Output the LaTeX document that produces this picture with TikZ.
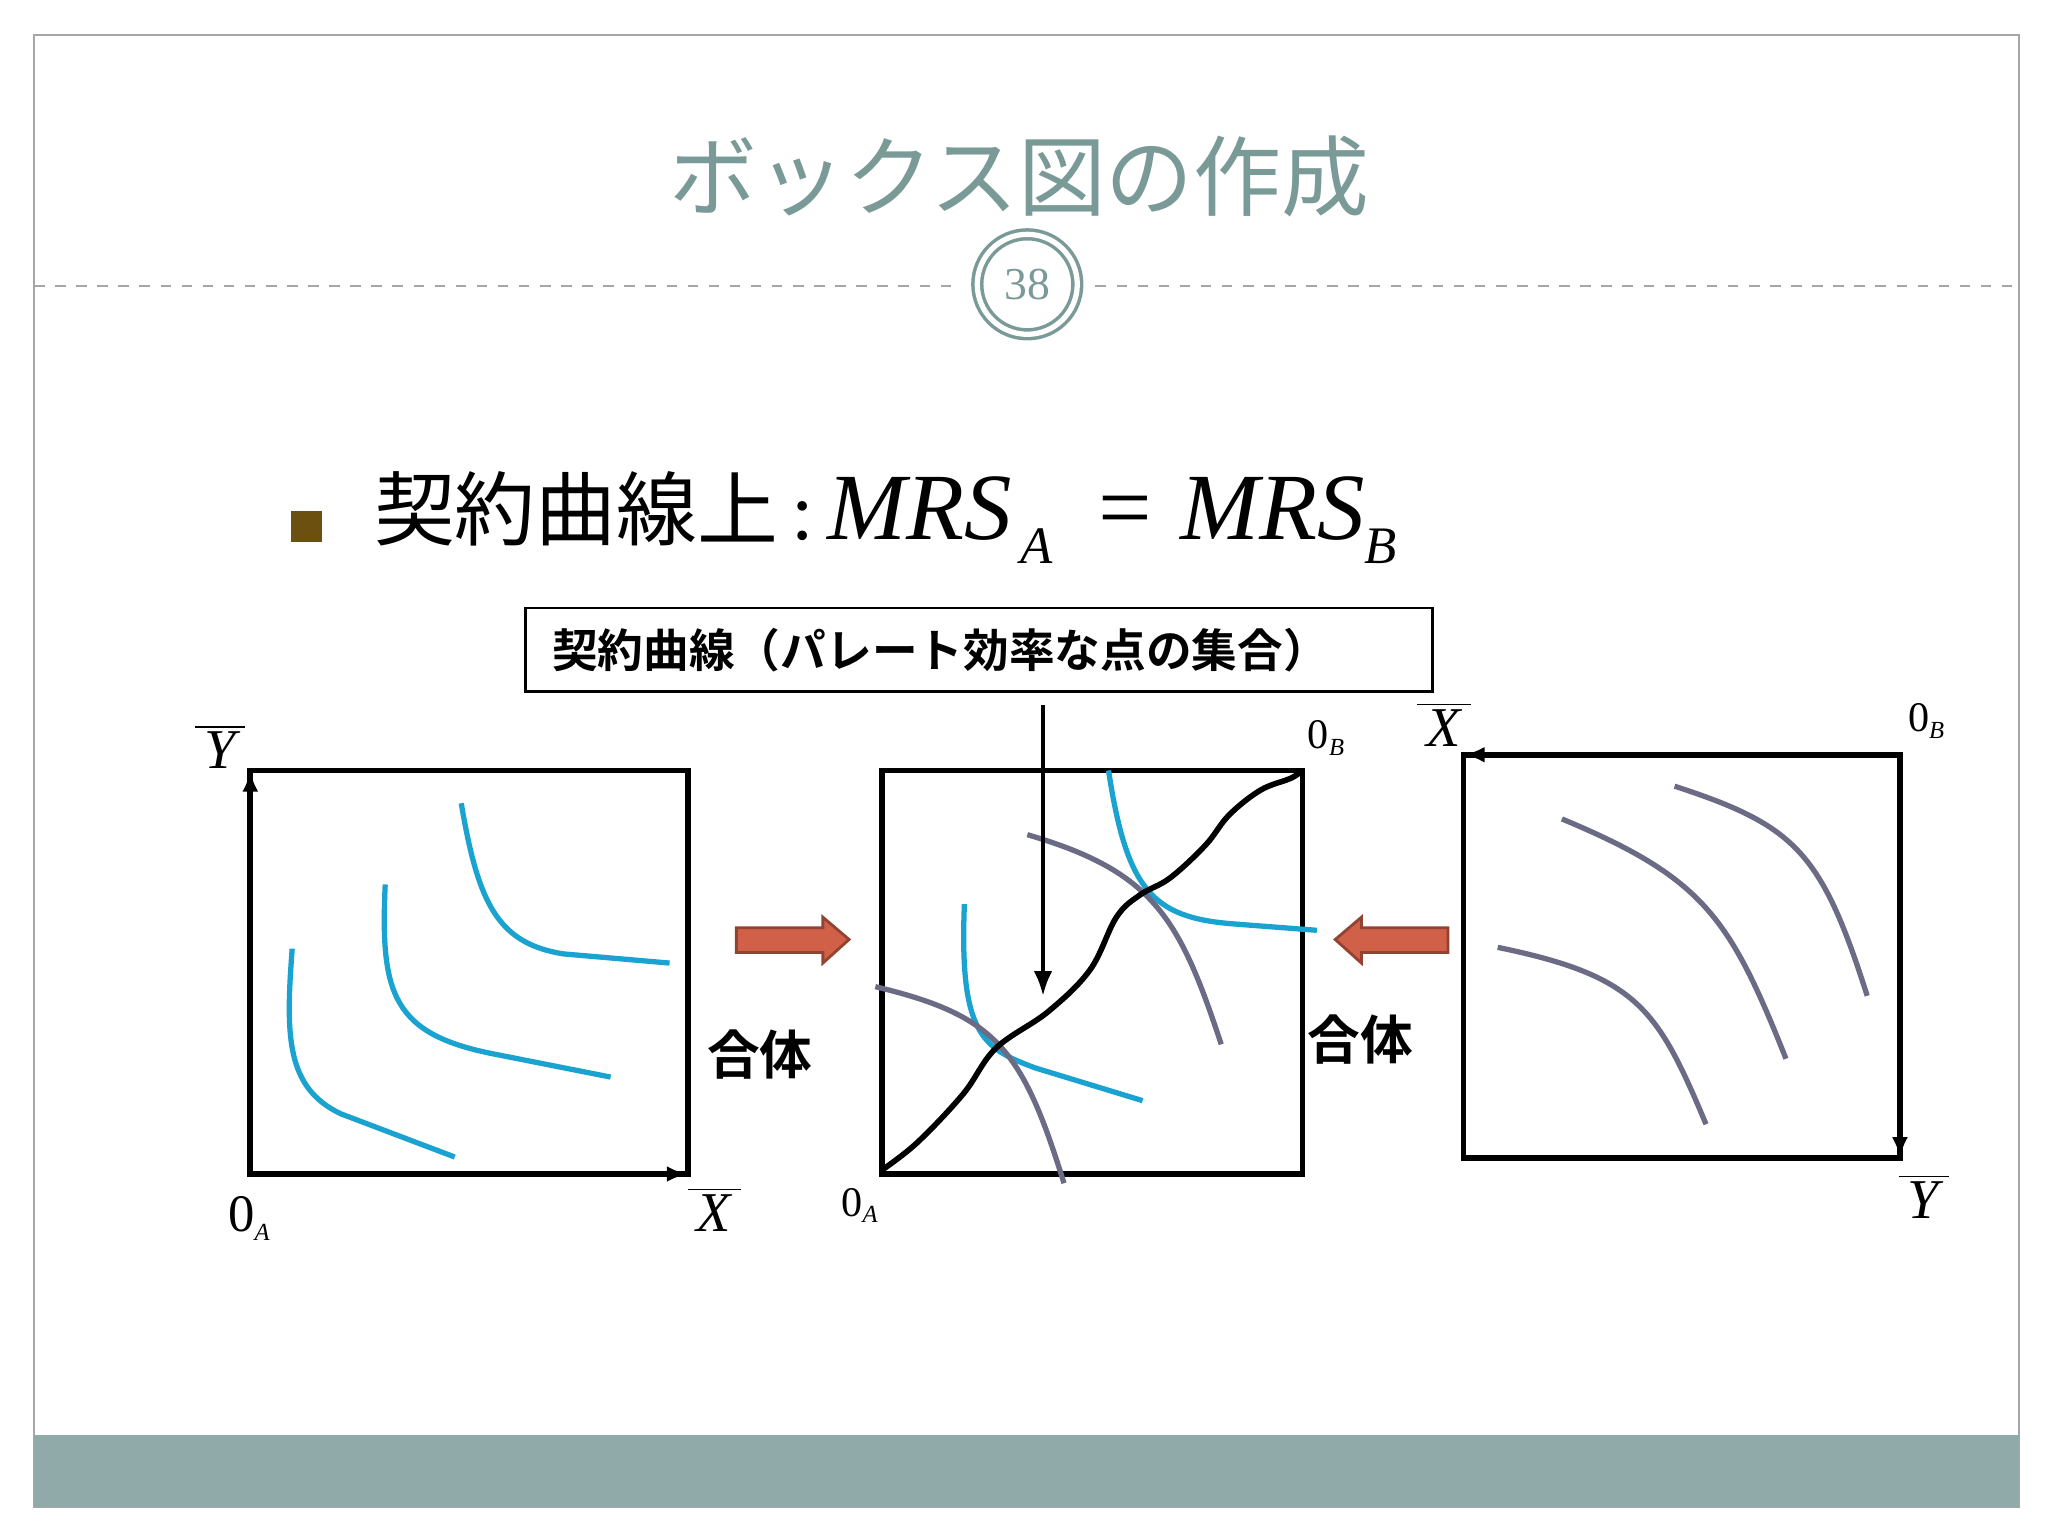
\documentclass[tikz,border=0pt]{standalone}
\usepackage{fontspec}
\setmainfont{Liberation Serif}
\newfontfamily\jp{Noto Sans CJK JP}
\newfontfamily\jpb{Noto Sans CJK JP Bold}
\usetikzlibrary{arrows.meta}
\definecolor{teal1}{HTML}{7A9A98}
\definecolor{band}{HTML}{8FAAA9}
\definecolor{cy}{HTML}{1AA3D0}
\definecolor{gy}{HTML}{6B6B86}
\definecolor{brn}{HTML}{6B5010}
\definecolor{blk}{HTML}{D06048}
\newcommand{\sbx}[1]{\raisebox{-0.35ex}{\fontsize{7}{8}\selectfont\itshape #1}}
\newcommand{\barl}[1]{$\overline{\mbox{\itshape\,#1\,}}$}
\tikzset{box/.style={draw,line width=1.6pt},cyc/.style={cy,line width=1.5pt},gyc/.style={gy,line width=1.5pt},
lab/.style={font=\fontsize{12}{14}\selectfont},
blab/.style={font=\fontsize{16}{18}\selectfont},
barr/.style={draw=blk!70!black,fill=blk,line width=0.8pt}}
\begin{document}
\begin{tikzpicture}[x=0.013103cm,y=-0.013103cm]
\useasboundingbox (0,0) rectangle (1563,1172);
\fill[white] (0,0) rectangle (1563,1172);
\draw[gray!70,line width=0.6pt] (26,27) rectangle (1541,1150);
\fill[band] (26,1095) rectangle (1541,1150);
\node (title) at (778,135) {\jp\fontsize{25}{28}\selectfont\color{teal1}ボックス図の作成};
\draw[gray!70,dashed,line width=0.6pt] (26,218) -- (730,218);
\draw[gray!70,dashed,line width=0.6pt] (836,218) -- (1541,218);
\node[circle,draw=teal1,double=white,double distance=1.5pt,line width=1pt,minimum size=1.0cm,fill=white] (pg) at (784,217) {\fontsize{13}{14}\selectfont\color{teal1}38};
\fill[brn] (222,390) rectangle (246,414);
\node[anchor=west] (bul) at (276,395) {\jp\fontsize{23}{26}\selectfont 契約曲線上\rmfamily\,:\,\fontsize{27}{28}\selectfont\itshape MRS\raisebox{-0.55ex}{\fontsize{15}{15}\selectfont\,A}\, = MRS\raisebox{-0.55ex}{\fontsize{15}{15}\selectfont B}};
\draw[line width=0.8pt] (401,464) rectangle (1093,528);
\node[anchor=west] (cc) at (412,496) {\jpb\fontsize{13}{15}\selectfont 契約曲線（パレート効率な点の集合）};
% left box
\draw[box] (191,588) rectangle (525,896);
\coordinate (la) at (191,896);
\draw[-{Latex[length=6pt]},line width=1.6pt] (la) -- (191,588);
\draw[-{Latex[length=6pt]},line width=1.6pt] (la) -- (525,896);
\node[blab] at (168,570) {\barl{Y}};
\node[lab] at (190,930) {\fontsize{15}{16}\selectfont 0\sbx{A}};
\node[blab] at (545,923) {\barl{X}};
\draw[cyc] (223,724) .. controls (218,790) and (218,830) .. (260,850) -- (347,883);
\draw[cyc] (294,675) .. controls (290,760) and (300,790) .. (380,805) -- (466,822);
\draw[cyc] (352,613) .. controls (365,690) and (380,720) .. (430,728) -- (511,735);
\draw[barr] (562,708) -- (628,708) -- (628,700) -- (648,717) -- (628,735) -- (628,727) -- (562,727) -- cycle;
\node (h1) at (580,805) {\jpb\fontsize{15}{17}\selectfont 合体};
% middle
\draw[box] (673,588) rectangle (994,896);
\node[lab] at (656,920) {0\sbx{A}};
\node[lab] at (1012,563) {0\sbx{B}};
\draw[cyc] (736,690) .. controls (732,790) and (750,800) .. (790,815) -- (872,840);
\draw[cyc] (846,588) .. controls (860,680) and (880,700) .. (940,705) -- (1005,710);
\draw[gyc] (668,753) .. controls (760,775) and (780,800) .. (812,903);
\draw[gyc] (784,637) .. controls (880,665) and (900,700) .. (932,797);
\draw[black,line width=1.6pt] plot[smooth,tension=0.6] coordinates {(673,893) (700,872) (735,835) (760,800) (800,772) (832,740) (852,700) (870,683) (893,670) (920,645) (938,622) (962,603) (985,594) (994,588)};
\coordinate (ce) at (796,538);
\draw[-{Latex[length=7pt]},line width=1pt] (ce) -- (796,760);
\draw[barr] (1105,708) -- (1039,708) -- (1039,700) -- (1019,717) -- (1039,735) -- (1039,727) -- (1105,727) -- cycle;
\node (h2) at (1038,793) {\jpb\fontsize{15}{17}\selectfont 合体};
% right
\draw[box] (1117,576) rectangle (1450,884);
\coordinate (rb) at (1450,576);
\draw[-{Latex[length=6pt]},line width=1.6pt] (rb) -- (1117,576);
\draw[-{Latex[length=6pt]},line width=1.6pt] (rb) -- (1450,884);
\node[blab] at (1102,553) {\barl{X}};
\node[lab] at (1470,550) {0\sbx{B}};
\node[blab] at (1468,913) {\barl{Y}};
\draw[gyc] (1143,723) .. controls (1250,745) and (1265,770) .. (1302,858);
\draw[gyc] (1192,625) .. controls (1300,670) and (1320,700) .. (1363,808);
\draw[gyc] (1278,600) .. controls (1370,630) and (1390,650) .. (1425,760);
\end{tikzpicture}
\end{document}
